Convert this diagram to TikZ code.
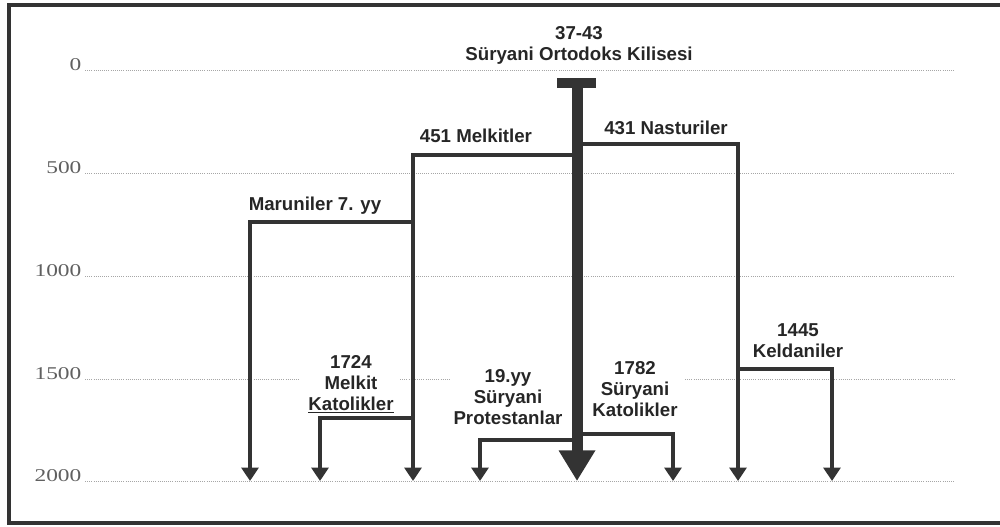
\documentclass[tikz,border=0pt]{standalone}
\usepackage{fontspec}
\setmainfont{Liberation Sans}
\newfontfamily\axisfont[FakeStretch=1.3]{Liberation Serif}
\usetikzlibrary{arrows.meta}
\definecolor{ink}{HTML}{333333}
\begin{document}
\begin{tikzpicture}[
    x=0.75pt, y=-0.75pt,
    lbl/.style={font=\fontsize{14}{15.8}\selectfont\bfseries, text=black!85, align=center, inner sep=0pt},
    yr/.style={font=\axisfont\fontsize{13.5}{13.5}\selectfont, text=gray!75!black, anchor=base east, inner sep=1pt},
    gridline/.style={gray!70, densely dotted, line width=0.6pt},
    branch/.style={draw=ink, line width=2.6pt, -{Triangle[length=10pt,width=12.5pt]}},
    trunk/.style={draw=ink, line width=8.25pt, -{Triangle[length=23pt,width=26pt]}},
    frame/.style={draw=ink, line width=2.5pt}
]
\useasboundingbox (0,0) rectangle (1000,526);

% frame
\draw[frame] (1000,5) -- (9,5) -- (9,523) -- (1000,523);

% years
\foreach \y/\yr in {70/0,173/500,276/1000,481/2000}{
  \node[yr] at (83,\y) {\yr};
  \draw[gridline] (85,\y) -- (955,\y);
}
\node[yr] at (83,379) {1500};
\draw[gridline] (85,379) -- (300,379);
\draw[gridline] (400,379) -- (450,379);
\draw[gridline] (685,379) -- (955,379);

% junctions
\coordinate (top) at (577,83);
\coordinate (end) at (577,481);
\coordinate (mel) at (577,155);
\coordinate (melEnd) at (413,481);
\coordinate (mar) at (413,222);
\coordinate (marEnd) at (250,481);
\coordinate (mk) at (413,418);
\coordinate (mkEnd) at (320,481);
\coordinate (nas) at (577,144);
\coordinate (nasEnd) at (738,481);
\coordinate (kel) at (738,369);
\coordinate (kelEnd) at (832,481);
\coordinate (pro) at (577,440);
\coordinate (proEnd) at (480,481);
\coordinate (sk) at (577,434);
\coordinate (skEnd) at (673,481);

% branches
\draw[branch] (mel) -| (melEnd);
\draw[branch] (mar) -| (marEnd);
\draw[branch] (mk) -| (mkEnd);
\draw[branch] (nas) -| (nasEnd);
\draw[branch] (kel) -| (kelEnd);
\draw[branch] (pro) -| (proEnd);
\draw[branch] (sk) -| (skEnd);

% main church
\fill[ink] (557,78) rectangle (596,88);
\draw[trunk] (top) -- (end);

% labels
\node[lbl] (orto) at (579,45) {37-43\\Süryani Ortodoks Kilisesi};
\node[lbl] (melL) at (476,136) {451 Melkitler};
\node[lbl] (nasL) at (666,128) {431 Nasturiler};
\node[lbl] (marL) at (315,206) {Maruniler 7. yy};
\node[lbl] (mkL) at (351,384) {1724\\Melkit\\\underline{Katolikler}};
\node[lbl] (proL) at (508,397) {19.yy\\Süryani\\Protestanlar};
\node[lbl] (skL) at (635,389) {1782\\Süryani\\Katolikler};
\node[lbl] (kelL) at (798,341) {1445\\Keldaniler};
\end{tikzpicture}
\end{document}
